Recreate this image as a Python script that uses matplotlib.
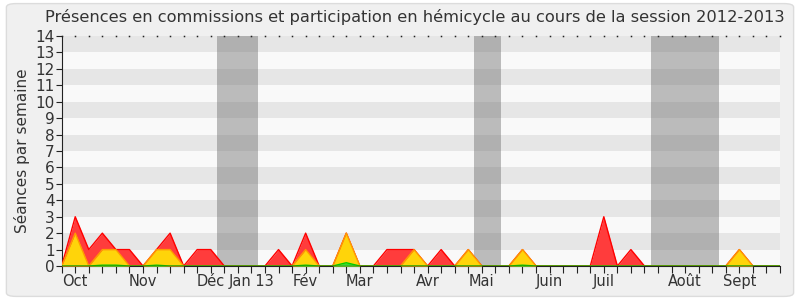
import numpy as np
import matplotlib
matplotlib.use("Agg")
import matplotlib.pyplot as plt
from matplotlib.patches import FancyBboxPatch

# weekly counts, session 2012-2013 (week 0 = 24 Sept 2012)
weeks = np.arange(54)
commission = [0, 3, 1, 2, 1, 1, 0, 1, 2, 0, 1, 1, 0, 0, 0, 0, 1, 0, 2, 0,
              0, 2, 0, 0, 1, 1, 1, 0, 1, 0, 1, 0, 0, 0, 1, 0, 0, 0, 0, 0,
              3, 0, 1, 0, 0, 0, 0, 0, 0, 0, 1, 0, 0, 0]
hemicycle = [0, 2, 0, 1, 1, 0, 0, 1, 1, 0, 0, 0, 0, 0, 0, 0, 0, 0, 1, 0,
             0, 2, 0, 0, 0, 0, 1, 0, 0, 0, 1, 0, 0, 0, 1, 0, 0, 0, 0, 0,
             0, 0, 0, 0, 0, 0, 0, 0, 0, 0, 1, 0, 0, 0]
questions = [0, 0, 0, 0.05, 0.05, 0, 0, 0.05, 0, 0, 0, 0, 0, 0, 0, 0, 0, 0, 0.05, 0,
             0, 0.2, 0, 0, 0, 0, 0, 0, 0, 0, 0, 0, 0, 0, 0.05, 0, 0, 0, 0, 0,
             0, 0, 0, 0, 0, 0, 0, 0, 0, 0, 0, 0, 0, 0]

# parliamentary holidays, in weeks
vacances = [(11.43, 14.45), (30.4, 32.45), (43.46, 48.47)]

month_labels = ["Oct", "Nov", "Déc", "Jan 13", "Fév", "Mar", "Avr", "Mai",
                "Juin", "Juil", "Août", "Sept"]
month_weeks = [1, 6, 11, 14, 18, 22, 27, 31, 36, 40, 46, 50]

fig = plt.figure(figsize=(8, 3), dpi=100)
fig.patch.set_facecolor("white")
fig.patches.append(FancyBboxPatch((0.008, 0.012), 0.984, 0.976,
                                  boxstyle="round,pad=0,rounding_size=0.012",
                                  transform=fig.transFigure, facecolor="#f0f0f0",
                                  edgecolor="#dcdcdc", linewidth=1, zorder=-10))

ax = fig.add_axes([0.0771, 0.1133, 0.8979, 0.7667])
ax.set_xlim(0, 53)
ax.set_ylim(0, 14)

# horizontal stripes
for y in range(14):
    ax.axhspan(y, y + 1, color="#e6e6e6" if y % 2 else "#f9f9f9", lw=0, zorder=0)

for a, b in vacances:
    ax.axvspan(a, b, color="#666666", alpha=0.42, lw=0, zorder=1)

ax.fill_between(weeks, commission, color="#ff3c3c", lw=0, zorder=2)
ax.plot(weeks, commission, color="#ff0000", lw=1, zorder=3)
ax.fill_between(weeks, hemicycle, color="#ffd40a", lw=0, zorder=4)
ax.plot(weeks, hemicycle, color="#ff9a00", lw=1, zorder=5)
ax.fill_between(weeks, questions, color="#33dd33", lw=0, zorder=6)
ax.plot(weeks, questions, color="#00cc00", lw=1, zorder=7)
ax.axhline(0, color="#7a2a10", lw=1, zorder=8)

for s in ["top", "right"]:
    ax.spines[s].set_visible(False)
ax.spines["left"].set_color("#222222")
ax.spines["bottom"].set_color("#222222")

ax.set_yticks(range(15))
ax.set_yticklabels([str(i) for i in range(15)], fontsize=11, color="#333333")
ax.tick_params(axis="y", length=4, width=0.8, pad=1, color="#222222")

ax.set_xticks(weeks, minor=True)
ax.set_xticks(month_weeks)
ax.set_xticklabels(month_labels, fontsize=10.5, color="#333333")
ax.tick_params(axis="x", which="both", length=5, width=0.8, pad=1, color="#222222")

# small dots along the top edge
ax.plot(weeks, np.full(len(weeks), 14.0), ls="none", marker="s", ms=1.1,
        color="#222222", mew=0, zorder=9, clip_on=False)

ax.set_ylabel("Séances par semaine", fontsize=11, color="#333333", labelpad=4)
fig.text(0.518, 0.943, "Présences en commissions et participation en hémicycle au cours de la session 2012-2013",
         ha="center", va="center", fontsize=11.7, color="#333333")

fig.savefig("out.png", dpi=100, facecolor=fig.get_facecolor())
